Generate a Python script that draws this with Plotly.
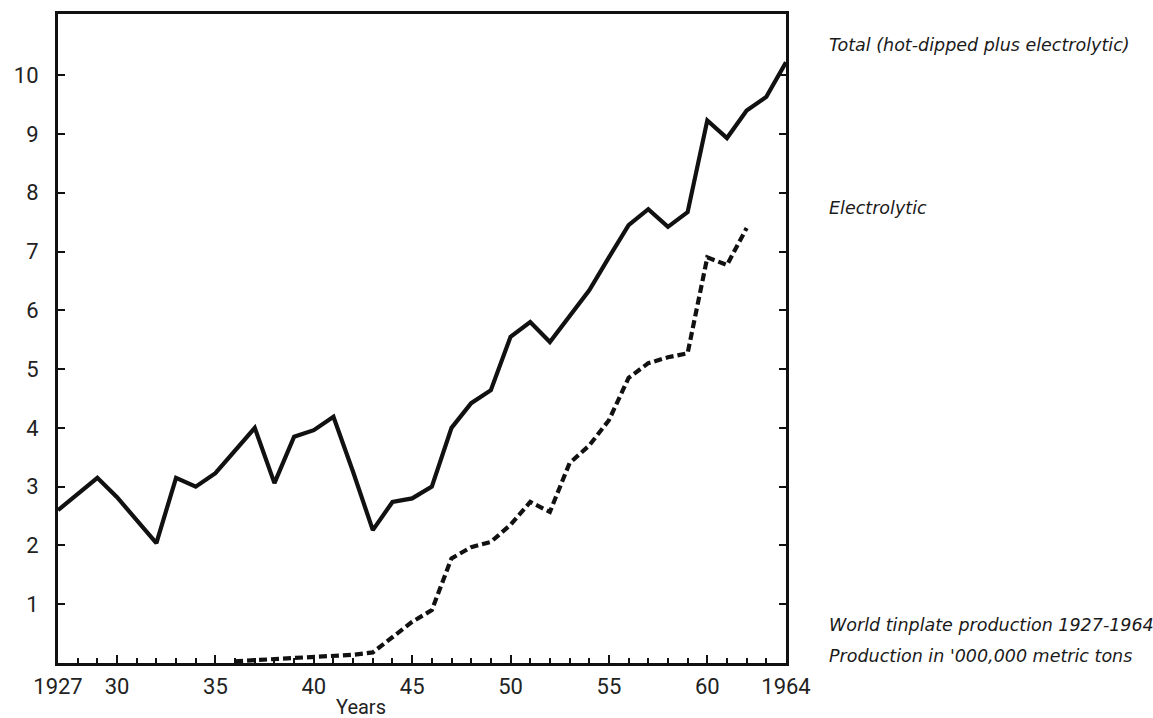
import plotly.graph_objects as go

# World tinplate production, millions of metric tons
years_total = list(range(1927, 1965))
total = [2.60, 2.88, 3.15, 2.82, 2.42, 2.04, 3.15, 3.00, 3.23, 3.62,
         4.00, 3.06, 3.85, 3.96, 4.19, 3.25, 2.26, 2.74, 2.80, 3.00,
         4.00, 4.42, 4.64, 5.55, 5.80, 5.46, 5.90, 6.34, 6.90, 7.45,
         7.72, 7.42, 7.67, 9.23, 8.93, 9.40, 9.63, 10.22]

years_elec = list(range(1936, 1963))
electrolytic = [0.03, 0.05, 0.06, 0.08, 0.10, 0.12, 0.14, 0.18, 0.45, 0.70,
                0.90, 1.78, 1.97, 2.06, 2.35, 2.74, 2.57, 3.40, 3.70, 4.13,
                4.85, 5.10, 5.20, 5.27, 6.90, 6.77, 7.40]

x_tickvals = [1927, 1930, 1935, 1940, 1945, 1950, 1955, 1960, 1964]
x_ticktext = ["1927", "30", "35", "40", "45", "50", "55", "60", "1964"]
x_minor_ticks = list(range(1927, 1965))
y_tickvals = list(range(1, 11))
y_ticktext = [str(v) for v in y_tickvals]

ink = "#111111"
tick_font = dict(family="Roboto, DejaVu Sans, sans-serif", size=22, color="#222222")
note_font = dict(family="DejaVu Sans, sans-serif", size=17.5, color="#1a1a1a")

fig = go.Figure()
fig.add_trace(go.Scatter(
    x=years_total, y=total, mode="lines",
    line=dict(color=ink, width=4.2), name="Total",
))
fig.add_trace(go.Scatter(
    x=years_elec, y=electrolytic, mode="lines",
    line=dict(color=ink, width=4.2, dash="8px,4px"), name="Electrolytic",
))

fig.update_layout(
    width=1153, height=718,
    margin=dict(l=58, r=367, t=14, b=55),
    paper_bgcolor="white", plot_bgcolor="white",
    showlegend=False,
)

fig.update_xaxes(
    range=[1927, 1964], showgrid=False, zeroline=False,
    showline=True, linecolor=ink, linewidth=3, mirror=True,
    ticks="inside", ticklen=8, tickwidth=2, tickcolor=ink,
    tickvals=x_tickvals, ticktext=x_ticktext, tickfont=tick_font,
    ticklabelstandoff=2,
    minor=dict(ticks="inside", ticklen=5, tickwidth=2, tickcolor=ink,
               tickmode="array", tickvals=x_minor_ticks, showgrid=False),
)
fig.update_yaxes(
    range=[0, 11.04], showgrid=False, zeroline=False,
    showline=True, linecolor=ink, linewidth=3, mirror="ticks",
    ticks="inside", ticklen=7, tickwidth=2, tickcolor=ink,
    tickvals=y_tickvals, ticktext=y_ticktext, tickfont=tick_font,
    ticklabelstandoff=12,
)

fig.add_annotation(
    text="Years", xref="paper", yref="paper",
    x=(361 - 58) / 728, y=-(707 - 663) / 649,
    xanchor="center", yanchor="middle", showarrow=False,
    font=dict(family="Roboto, DejaVu Sans, sans-serif", size=20, color="#222222"),
)

notes = [
    ("Total (hot-dipped plus electrolytic)", 45),
    ("Electrolytic", 208),
    ("World tinplate production 1927-1964", 625),
    ("Production in '000,000 metric tons", 656),
]
for text, ypix in notes:
    fig.add_annotation(
        text=f"<i>{text}</i>", xref="paper", yref="paper",
        x=(827 - 58) / 728, y=(663 - ypix) / 649,
        xanchor="left", yanchor="middle", showarrow=False,
        font=note_font,
    )

fig.write_html("out.html")
